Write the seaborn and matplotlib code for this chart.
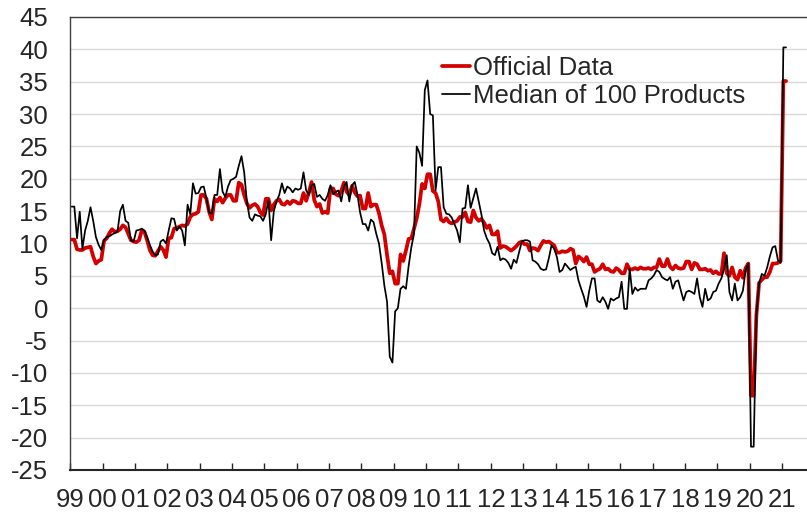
import numpy as np
import pandas as pd
import matplotlib
matplotlib.use("Agg")
import matplotlib.pyplot as plt
import seaborn as sns

# Monthly year-on-year growth (%), Jan 1999 - Feb 2021
official = [
    10.6, 10.6, 9.1, 9.0, 9.0, 9.3, 9.4, 9.5, 8.0, 6.9, 7.3, 7.5,            # 1999
    10.4, 10.8, 11.6, 12.2, 11.8, 11.9, 12.2, 12.8, 12.5, 11.5, 10.5, 10.3,  # 2000
    10.2, 10.5, 12.0, 11.8, 10.5, 9.0, 8.2, 8.1, 8.8, 9.5, 9.0, 7.9,         # 2001
    10.8, 10.9, 12.3, 12.4, 12.6, 12.8, 12.7, 13.0, 14.1, 14.5, 14.6, 14.9,  # 2002
    17.5, 17.5, 16.9, 14.9, 13.7, 16.9, 16.5, 17.1, 16.3, 17.0, 17.5, 17.5,  # 2003
    16.6, 16.6, 19.4, 19.1, 17.5, 16.2, 15.5, 15.9, 16.1, 15.7, 14.8, 14.4,  # 2004
    16.9, 16.9, 15.1, 16.0, 16.6, 16.8, 16.1, 16.0, 16.5, 16.1, 16.6, 16.5,  # 2005
    16.2, 16.2, 17.8, 16.6, 17.9, 19.5, 16.7, 15.7, 16.1, 14.7, 14.9, 14.7,  # 2006
    18.5, 18.5, 17.6, 17.4, 18.1, 19.4, 18.0, 17.5, 18.9, 17.9, 17.3, 17.4,  # 2007
    15.4, 15.4, 17.8, 15.7, 16.0, 16.0, 14.7, 12.8, 11.4, 8.2, 5.4, 5.7,     # 2008
    3.8, 3.8, 8.3, 7.3, 8.9, 10.7, 10.8, 12.3, 13.9, 16.1, 19.2, 18.5,       # 2009
    20.7, 20.7, 18.1, 17.8, 16.5, 13.7, 13.4, 13.9, 13.3, 13.1, 13.3, 13.5,  # 2010
    14.1, 14.1, 14.8, 13.4, 13.3, 15.1, 14.0, 13.5, 13.8, 13.2, 12.4, 12.8,  # 2011
    11.4, 11.4, 11.9, 9.3, 9.6, 9.5, 9.2, 8.9, 9.2, 9.6, 10.1, 10.3,         # 2012
    9.9, 9.9, 8.9, 9.3, 9.2, 8.9, 9.7, 10.4, 10.2, 10.3, 10.0, 9.7,          # 2013
    8.6, 8.6, 8.8, 8.7, 8.8, 9.2, 9.0, 6.9, 8.0, 7.7, 7.2, 7.9,              # 2014
    6.8, 6.8, 5.6, 5.9, 6.1, 6.8, 6.0, 6.1, 5.7, 5.6, 6.2, 5.9,              # 2015
    5.4, 5.4, 6.8, 6.0, 6.0, 6.2, 6.0, 6.3, 6.1, 6.1, 6.2, 6.0,              # 2016
    6.3, 6.3, 7.6, 6.5, 6.5, 7.6, 6.4, 6.0, 6.6, 6.2, 6.1, 6.2,              # 2017
    7.2, 7.2, 6.0, 7.0, 6.8, 6.0, 6.0, 6.1, 5.8, 5.9, 5.4, 5.7,              # 2018
    5.3, 5.3, 8.5, 5.4, 5.0, 6.3, 4.8, 4.4, 5.8, 4.7, 6.2, 6.9,              # 2019
    -13.5, -13.5, -1.1, 3.9, 4.4, 4.8, 4.8, 5.6, 6.9, 6.9, 7.0, 7.3,         # 2020
    35.1, 35.1,                                                              # 2021
]

median_100 = [
    15.7, 15.7, 10.8, 14.9, 9.2, 12.0, 13.5, 15.6, 13.5, 11.0, 9.8, 9.0,     # 1999
    10.5, 11.0, 11.1, 11.4, 11.6, 11.8, 15.0, 16.0, 13.5, 13.2, 10.5, 10.3,  # 2000
    12.0, 12.1, 12.3, 12.0, 11.0, 9.8, 8.8, 8.2, 8.3, 10.3, 10.6, 10.0,      # 2001
    12.0, 13.9, 13.8, 12.0, 12.6, 12.0, 9.7, 16.0, 14.5, 19.3, 17.7, 17.8,   # 2002
    18.7, 18.8, 17.0, 14.8, 14.6, 17.5, 17.5, 21.5, 18.0, 17.2, 18.8, 19.8,  # 2003
    20.0, 20.3, 22.0, 23.5, 21.0, 16.5, 14.0, 13.5, 14.5, 14.3, 14.2, 13.5,  # 2004
    14.5, 16.7, 10.5, 15.0, 16.5, 17.5, 19.3, 17.8, 18.8, 18.5, 17.9, 18.5,  # 2005
    18.3, 18.5, 21.0, 18.2, 17.5, 19.0, 19.2, 17.2, 17.5, 16.9, 16.6, 17.5,  # 2006
    19.0, 17.6, 18.0, 18.2, 16.5, 18.8, 19.5, 16.5, 19.0, 19.5, 17.6, 14.8,  # 2007
    13.0, 13.0, 12.0, 13.7, 13.3, 11.5, 10.0, 7.0, 3.5, 1.0, -7.5, -8.4,     # 2008
    -0.5, 0.0, 3.0, 3.4, 3.0, 6.5, 9.4, 11.5, 25.0, 24.0, 22.0, 33.7,       # 2009
    35.2, 30.0, 29.8, 18.2, 21.8, 21.8, 15.6, 14.6, 14.5, 14.0, 13.0, 12.0,  # 2010
    10.2, 15.4, 15.5, 19.0, 15.5, 17.0, 18.5, 16.5, 14.5, 12.0, 10.8, 10.0,  # 2011
    8.5, 8.2, 9.5, 7.4, 7.7, 7.5, 7.0, 6.1, 7.5, 7.0, 8.7, 10.3,             # 2012
    10.5, 10.5, 10.3, 7.4, 7.2, 6.8, 6.1, 5.9, 6.0, 7.7, 9.7, 9.2,           # 2013
    7.9, 5.6, 5.9, 6.9, 6.4, 5.9, 6.2, 6.4, 4.3, 3.0, 1.8, 0.2,              # 2014
    2.7, 4.6, 4.6, 1.2, 0.9, 1.7, 1.0, -0.1, 1.5, 1.2, 1.5, 1.7,             # 2015
    4.1, -0.1, -0.1, 6.1, 2.2, 3.2, 2.7, 3.0, 3.0, 3.0, 4.3, 4.6,            # 2016
    5.1, 5.9, 5.6, 4.8, 4.5, 4.3, 4.8, 3.0, 4.1, 4.3, 2.7, 1.2,              # 2017
    2.5, 2.7, 2.5, 2.2, 4.6, 1.7, 0.2, 3.0, 1.2, 1.5, 2.5, 2.7,              # 2018
    3.8, 4.6, 6.0, 8.2, 2.5, 1.2, 3.8, 1.2, 1.7, 2.7, 5.9, 6.9,              # 2019
    -21.4, -21.4, -1.0, 3.8, 5.3, 5.0, 6.3, 8.0, 9.4, 9.6, 7.4, 7.0,         # 2020
    40.3, 40.3,                                                              # 2021
]

year_labels = ["99", "00", "01", "02", "03", "04", "05", "06", "07", "08", "09",
               "10", "11", "12", "13", "14", "15", "16", "17", "18", "19", "20", "21"]
y_ticks = [-25, -20, -15, -10, -5, 0, 5, 10, 15, 20, 25, 30, 35, 40, 45]

# Months placed at mid-month on a decimal-year axis
months = pd.date_range("1999-01-01", periods=len(official), freq="MS")
df = pd.DataFrame({
    "t": months.year + (months.month - 0.5) / 12.0,
    "official": official,
    "median": median_100,
})

sns.set_style("white")
plt.rcParams["font.family"] = ["Liberation Sans", "DejaVu Sans"]
plt.rcParams["axes.unicode_minus"] = False

fig = plt.figure(figsize=(8.07, 5.18), dpi=100)
ax = fig.add_axes([0.0871, 0.0927, 0.9129, 0.8745])

sns.lineplot(data=df, x="t", y="official", ax=ax, color="#D40000",
             linewidth=2.7, label="Official Data")
sns.lineplot(data=df, x="t", y="median", ax=ax, color="black",
             linewidth=1.25, label="Median of 100 Products")

ax.set_ylim(-25, 45)
ax.set_xlim(1999, 2021.773)
ax.set_yticks(y_ticks)
ax.set_yticklabels([str(v) for v in y_ticks])
years = np.arange(1999, 1999 + len(year_labels))
ax.set_xticks(years)
ax.set_xticklabels(year_labels)
ax.set_xlabel("")
ax.set_ylabel("")

ax.grid(axis="y", color="#d9d9d9", linewidth=1.0)
ax.grid(axis="x", visible=False)
ax.set_axisbelow(True)

ax.tick_params(axis="x", direction="in", length=5, width=1.0, color="#262626",
               labelsize=18.5, pad=13, bottom=True)
ax.tick_params(axis="y", length=0, labelsize=18.5, pad=16)

for side in ["left", "top"]:
    ax.spines[side].set_color("#404040")
    ax.spines[side].set_linewidth(1.0)
ax.spines["bottom"].set_color("#262626")
ax.spines["bottom"].set_linewidth(1.5)
ax.spines["right"].set_visible(False)

leg = ax.legend(loc="upper left", bbox_to_anchor=(441.7 / 807, 1 - 56 / 518),
                bbox_transform=fig.transFigure, frameon=False, fontsize=18.5,
                handlelength=1.1, handletextpad=0.13, borderpad=0,
                labelspacing=0.14, borderaxespad=0)

fig.savefig("out.png", dpi=100)
